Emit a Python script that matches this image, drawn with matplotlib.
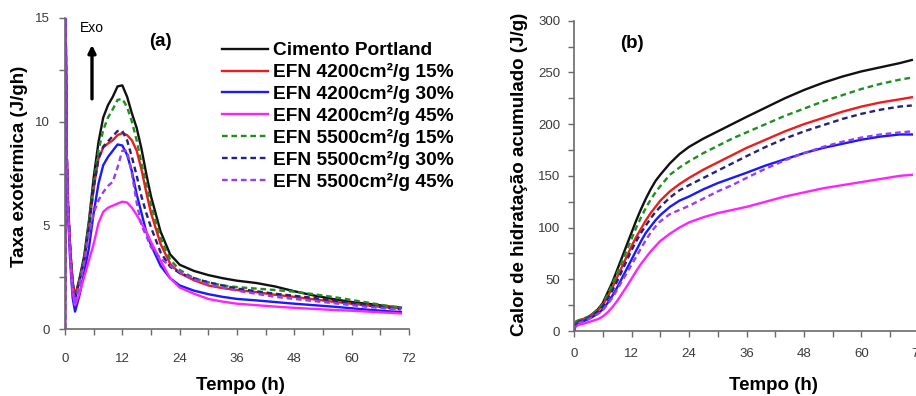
import matplotlib
matplotlib.use("Agg")
import matplotlib.pyplot as plt
from matplotlib.ticker import MultipleLocator

plt.rcParams['font.family'] = ['Liberation Sans', 'DejaVu Sans']

# ---- series definitions ----
series_labels = [
    "Cimento Portland",
    "EFN 4200cm²/g 15%",
    "EFN 4200cm²/g 30%",
    "EFN 4200cm²/g 45%",
    "EFN 5500cm²/g 15%",
    "EFN 5500cm²/g 30%",
    "EFN 5500cm²/g 45%",
]
series_colors = ["#111111", "#ee1c1c", "#1a1aff", "#ff22ff", "#1f8f1f", "#23237f", "#9a3cf0"]
series_dashed = [False, False, False, False, True, True, True]

# ---- (a) heat release rate, J/gh ----
rate_time = [0, 0.1, 0.35, 0.6, 1.1, 1.6, 2.1, 3, 4, 5, 6, 7, 8, 9, 10, 11, 12, 13, 14,
             15, 16, 17, 18, 20, 22, 24, 27, 30, 33, 36, 40, 44, 48, 52, 56, 60, 64, 68, 70.3]
rate_portland = [0, 16, 8.6, 6.2, 3.8, 2.3, 1.56, 2.4, 3.5, 5.2, 7.3, 9.0, 10.2, 10.8, 11.2,
                 11.7, 11.75, 11.2, 10.4, 9.7, 8.7, 7.5, 6.4, 4.7, 3.6, 3.1, 2.8, 2.6, 2.45,
                 2.33, 2.22, 2.05, 1.82, 1.62, 1.45, 1.3, 1.2, 1.08, 1.03]
rate_4200_15 = [0, 16, 8.6, 6.2, 3.8, 2.2, 1.5, 2.3, 3.3, 4.9, 6.8, 8.2, 8.75, 8.95, 9.1,
                9.35, 9.45, 9.35, 9.1, 8.6, 7.7, 6.6, 5.6, 4.1, 3.15, 2.7, 2.35, 2.1, 1.97,
                1.88, 1.78, 1.65, 1.55, 1.43, 1.32, 1.22, 1.12, 1.03, 1.0]
rate_4200_30 = [0, 16, 8.4, 5.8, 3.2, 1.5, 0.84, 1.6, 2.7, 3.9, 5.6, 7.0, 7.9, 8.3, 8.6,
                8.9, 8.85, 8.4, 7.6, 6.5, 5.6, 4.7, 4.05, 3.05, 2.45, 2.1, 1.85, 1.68, 1.55,
                1.45, 1.38, 1.3, 1.22, 1.15, 1.08, 1.0, 0.92, 0.85, 0.82]
rate_4200_45 = [0, 16, 8.5, 6.0, 3.4, 1.8, 1.15, 1.7, 2.5, 3.3, 4.1, 5.1, 5.65, 5.85, 5.95,
                6.05, 6.14, 6.1, 5.85, 5.5, 5.1, 4.7, 4.2, 3.3, 2.45, 2.0, 1.7, 1.45, 1.32,
                1.22, 1.15, 1.08, 1.02, 0.97, 0.92, 0.88, 0.83, 0.78, 0.75]
rate_5500_15 = [0, 16, 8.6, 6.2, 3.8, 2.2, 1.5, 2.3, 3.4, 5.1, 7.0, 8.6, 9.6, 10.2, 10.6,
                11.05, 11.1, 10.7, 10.0, 9.1, 8.0, 7.0, 6.0, 4.4, 3.35, 2.85, 2.45, 2.25, 2.1,
                2.02, 1.95, 1.88, 1.8, 1.68, 1.55, 1.4, 1.25, 1.1, 1.05]
rate_5500_30 = [0, 16, 8.6, 6.2, 3.8, 2.1, 1.45, 2.3, 3.3, 4.9, 6.8, 8.2, 8.8, 9.05, 9.3,
                9.55, 9.55, 9.1, 8.3, 7.4, 6.4, 5.6, 4.9, 3.7, 3.0, 2.7, 2.45, 2.25, 2.1,
                1.95, 1.82, 1.7, 1.6, 1.5, 1.38, 1.25, 1.12, 1.0, 0.95]
rate_5500_45 = [0, 16, 8.6, 6.1, 3.6, 2.0, 1.3, 2.1, 3.2, 4.5, 5.6, 6.2, 6.6, 6.9, 7.1,
                7.8, 8.6, 8.6, 7.5, 6.1, 5.0, 4.5, 3.95, 3.4, 3.05, 2.75, 2.4, 2.15, 2.0,
                1.85, 1.7, 1.55, 1.45, 1.35, 1.25, 1.15, 1.05, 0.98, 0.95]

# ---- (b) cumulative heat of hydration, J/g ----
heat_time = [0, 0.3, 1, 2, 3, 4, 5, 6, 7, 8, 9, 10, 11, 12, 13, 14, 15, 16, 17, 18,
             20, 22, 24, 27, 30, 33, 36, 40, 44, 48, 52, 56, 60, 64, 68, 70.5]
heat_portland = [0, 8, 10, 11.5, 13.5, 17, 21, 27, 37, 47, 59, 71, 83, 95, 107, 118, 128,
                 137, 145, 151, 162, 171, 178, 186, 193, 200, 207, 216, 225, 233, 240, 246,
                 251, 255, 259, 262]
heat_4200_15 = [0, 8, 10, 11.5, 13.5, 16.5, 20, 25, 33, 42, 52, 62, 72, 82, 91, 99, 107,
                114, 120, 126, 135, 142, 148, 156, 163, 170, 177, 185, 193, 200, 206, 212,
                217, 221, 224, 226]
heat_4200_30 = [0, 6, 8, 9.5, 11.5, 14, 17, 21, 27, 34, 42, 51, 60, 69, 78, 87, 95, 101,
                107, 112, 120, 126, 130, 137, 143, 148, 153, 160, 166, 172, 177, 181, 185,
                188, 190, 190]
heat_4200_45 = [0, 4, 6, 7, 8.5, 10, 11.5, 14, 18, 23, 29, 36, 43, 50.5, 58, 65, 71, 77,
                82, 87, 94, 100, 105, 110, 114, 117, 120, 125, 130, 134, 138, 141, 144, 147,
                150, 151]
heat_5500_15 = [0, 9, 10.5, 12, 14, 17, 21, 26, 35, 45, 56, 67, 78, 89, 100, 110, 119,
                127, 134, 140, 151, 158, 164, 172, 179, 186, 192, 200, 208, 215, 222, 228,
                234, 239, 243, 245]
heat_5500_30 = [0, 7, 9, 10.5, 12.5, 15.5, 19, 24, 31, 39, 48, 58, 68, 78, 87, 95, 102,
                109, 115, 120, 129, 136, 141, 148, 155, 162, 169, 178, 186, 193, 199, 205,
                210, 214, 217, 218]
heat_5500_45 = [0, 6, 8, 9.5, 11.5, 14, 16.5, 20, 26, 32, 40, 48, 56, 64, 72, 80, 88, 95,
                101, 106, 113, 117, 121, 128, 135, 141, 148, 157, 165, 172, 178, 183, 187,
                190, 192, 193]

rate_series = [rate_portland, rate_4200_15, rate_4200_30, rate_4200_45,
               rate_5500_15, rate_5500_30, rate_5500_45]
heat_series = [heat_portland, heat_4200_15, heat_4200_30, heat_4200_45,
               heat_5500_15, heat_5500_30, heat_5500_45]

time_ticks = [0, 12, 24, 36, 48, 60, 72]

W, H = 916, 396
fig = plt.figure(figsize=(W / 100, H / 100), dpi=100)

def px_axes(x0, x1, ytop, ybot):
    return fig.add_axes([x0 / W, 1 - ybot / H, (x1 - x0) / W, (ybot - ytop) / H])

ax1 = px_axes(65, 409, 18, 329)
ax2 = px_axes(574, 919, 20.7, 331)

spine_col = "#6a6a6a"
tick_col = "#3a3a3a"

def style_axes(ax, ymajor, yminor, xpad, ypad):
    for s in ("top", "right"):
        ax.spines[s].set_visible(False)
    for s in ("left", "bottom"):
        ax.spines[s].set_color(spine_col)
        ax.spines[s].set_linewidth(1.2)
    ax.xaxis.set_major_locator(MultipleLocator(12))
    ax.xaxis.set_minor_locator(MultipleLocator(6))
    ax.yaxis.set_major_locator(MultipleLocator(ymajor))
    ax.yaxis.set_minor_locator(MultipleLocator(yminor))
    ax.tick_params(which="both", direction="out", length=4, width=1.0,
                   color=spine_col, labelcolor=tick_col, labelsize=9.5)
    ax.tick_params(axis="x", which="major", pad=xpad)
    ax.tick_params(axis="y", which="major", pad=ypad)
    ax.set_xticks(time_ticks)
    ax.set_xlim(0, 72)

dash = (0, (2.4, 1.6))
for data, lab, col, dsh in zip(rate_series, series_labels, series_colors, series_dashed):
    ax1.plot(rate_time, data, color=col, lw=1.7, linestyle=dash if dsh else "-", label=lab)
for data, lab, col, dsh in zip(heat_series, series_labels, series_colors, series_dashed):
    ax2.plot(heat_time, data, color=col, lw=1.7, linestyle=dash if dsh else "-", label=lab)

ax1.set_ylim(0, 15)
ax2.set_ylim(0, 300)
style_axes(ax1, 5, 2.5, 13, 7)
style_axes(ax2, 50, 25, 8, 6)

label_font = dict(fontsize=13.5, fontweight="bold", color="black")
ax1.set_ylabel("Taxa exotérmica (J/gh)", **label_font)
ax1.yaxis.set_label_coords((20 - 65) / 344, 0.5 - (166 - 173.5) / 311)
ax1.yaxis.label.set_va("center")
ax1.set_xlabel("Tempo (h)", **label_font)
ax1.xaxis.set_label_coords((240 - 65) / 344, -(385 - 329) / 311)
ax1.xaxis.label.set_va("center")

ax2.set_ylabel("Calor de hidratação acumulado (J/g)", **label_font)
ax2.yaxis.set_label_coords((520 - 574) / 345, 0.5 - (174 - 175.85) / 310.3)
ax2.yaxis.label.set_va("center")
ax2.set_xlabel("Tempo (h)", **label_font)
ax2.xaxis.set_label_coords((773 - 574) / 345, -(385 - 331) / 310.3)
ax2.xaxis.label.set_va("center")

# panel tags
ax1.text(19.9, 13.85, "(a)", fontsize=13.5, fontweight="bold", ha="center", va="center")
ax2.text(12.1, 277.5, "(b)", fontsize=13.5, fontweight="bold", ha="center", va="center")

# exothermic direction marker
ax1.text(5.65, 14.52, "Exo", fontsize=10, ha="center", va="center")
ax1.annotate("", xy=(5.65, 13.7), xytext=(5.65, 11.1),
             arrowprops=dict(arrowstyle="-|>", color="black", lw=2.4, mutation_scale=11,
                             shrinkA=0, shrinkB=0))

leg = ax1.legend(loc="upper left", bbox_to_anchor=(222 / W, 1 - 42 / H),
                 bbox_transform=fig.transFigure, frameon=False, borderpad=0,
                 borderaxespad=0, handlelength=2.4, handletextpad=0.27,
                 labelspacing=0.2, prop=dict(size=13.8, weight="bold"))

fig.savefig("out.png", dpi=100)
